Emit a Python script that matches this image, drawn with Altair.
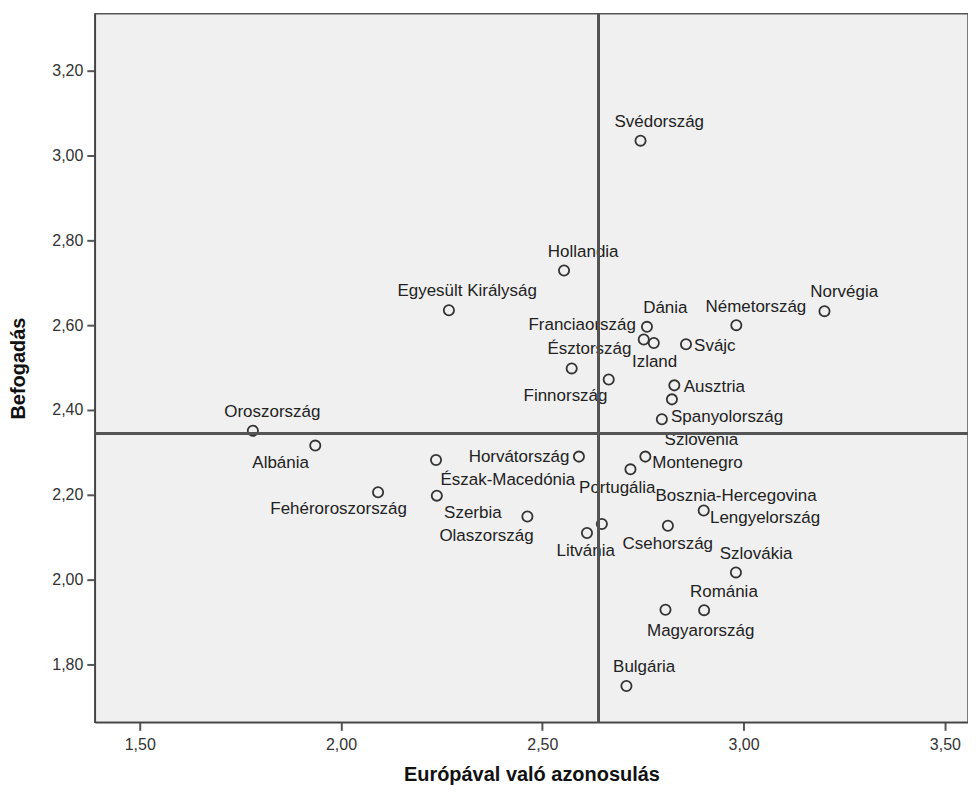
import altair as alt
import pandas as pd

# ---- data ----
countries = [
    "Svédország", "Hollandia", "Egyesült Királyság", "Norvégia", "Németország",
    "Dánia", "Franciaország", "Izland", "Svájc", "Észtország",
    "Finnország", "Ausztria", "Spanyolország", "Szlovénia", "Oroszország",
    "Albánia", "Horvátország", "Montenegro", "Portugália", "Észak-Macedónia",
    "Fehéroroszország", "Szerbia", "Olaszország", "Litvánia", "Bosznia-Hercegovina",
    "Csehország", "Lengyelország", "Szlovákia", "Románia", "Magyarország",
    "Bulgária",
]
identification = [
    2.744, 2.554, 2.268, 3.201, 2.982,
    2.760, 2.752, 2.777, 2.857, 2.573,
    2.665, 2.828, 2.797, 2.822, 1.781,
    1.936, 2.591, 2.756, 2.719, 2.236,
    2.092, 2.238, 2.463, 2.611, 2.648,
    2.812, 2.901, 2.981, 2.902, 2.806,
    2.709,
]
acceptance = [
    3.035, 2.729, 2.635, 2.633, 2.600,
    2.596, 2.566, 2.558, 2.555, 2.498,
    2.472, 2.458, 2.378, 2.425, 2.351,
    2.316, 2.290, 2.290, 2.260, 2.282,
    2.206, 2.198, 2.149, 2.110, 2.131,
    2.127, 2.163, 2.017, 1.928, 1.929,
    1.749,
]
mean_identification = 2.639
mean_acceptance = 2.345
x_ticks = [1.5, 2.0, 2.5, 3.0, 3.5]
y_ticks = [1.8, 2.0, 2.2, 2.4, 2.6, 2.8, 3.0, 3.2]

# ---- layout (label placement, in screen pixels relative to the point) ----
label_offsets_px = {
    "Svédország": (18.8, -18.3), "Hollandia": (19.2, -18.3),
    "Egyesült Királyság": (18.3, -19), "Norvégia": (19.7, -19.3),
    "Németország": (19.6, -17.7), "Dánia": (18.4, -18.4),
    "Franciaország": (-61.7, -15), "Izland": (0.8, 19),
    "Svájc": (28.9, 1.4), "Észtország": (17.8, -19),
    "Finnország": (-43.3, 16.4), "Ausztria": (40.1, 1.4),
    "Spanyolország": (65.4, -2), "Szlovénia": (29.5, 40.7),
    "Oroszország": (19.5, -18.4), "Albánia": (-34.7, 17),
    "Horvátország": (-60, 0), "Montenegro": (52.3, 6),
    "Portugália": (-13.2, 18.4), "Észak-Macedónia": (72, 20),
    "Fehéroroszország": (-39.5, 17), "Szerbia": (36.1, 17.3),
    "Olaszország": (-41, 20), "Litvánia": (-1.3, 18.4),
    "Bosznia-Hercegovina": (134.5, -28.3), "Csehország": (-0.1, 18),
    "Lengyelország": (61.5, 7.3), "Szlovákia": (20.2, -18.7),
    "Románia": (19.8, -18), "Magyarország": (35.3, 21.7),
    "Bulgária": (17.8, -19.4),
}

W, H = 875, 710
X_DOMAIN = [1.3884, 3.5575]
Y_DOMAIN = [1.6635, 3.3341]
x_per_px = (X_DOMAIN[1] - X_DOMAIN[0]) / W
y_per_px = (Y_DOMAIN[1] - Y_DOMAIN[0]) / H

df = pd.DataFrame({"country": countries, "x": identification, "y": acceptance})
df["lx"] = [x + label_offsets_px[c][0] * x_per_px for c, x in zip(countries, identification)]
df["ly"] = [y - label_offsets_px[c][1] * y_per_px for c, y in zip(countries, acceptance)]

FONT = "Liberation Sans"
fmt = "replace(format(datum.value, '.2f'), '.', ',')"

xscale = alt.Scale(domain=X_DOMAIN, nice=False, zero=False)
yscale = alt.Scale(domain=Y_DOMAIN, nice=False, zero=False)

x_axis = alt.Axis(
    values=x_ticks, labelExpr=fmt, title="Európával való azonosulás",
    grid=False, tickSize=8, tickWidth=2, tickColor="#555",
    labelPadding=6, labelFontSize=16, labelFont=FONT, labelColor="#333",
    domainColor="#444", domainWidth=1.5,
    titleFont=FONT, titleFontSize=20, titleFontWeight="bold", titleColor="#111",
    titleBaseline="middle", titleY=52,
)
y_axis = alt.Axis(
    values=y_ticks, labelExpr=fmt, title="Befogadás",
    grid=False, tickSize=8, tickWidth=2, tickColor="#555",
    labelPadding=4, labelFontSize=16, labelFont=FONT, labelColor="#333",
    domainColor="#444", domainWidth=1.5,
    titleFont=FONT, titleFontSize=20, titleFontWeight="bold", titleColor="#111",
    titleBaseline="middle", titleAlign="center", titleX=-76, titleY=H / 2,
)

points = alt.Chart(df).mark_point(
    shape="circle", filled=False, size=105, strokeWidth=1.8, color="#333", opacity=1
).encode(
    x=alt.X("x:Q", scale=xscale, axis=x_axis),
    y=alt.Y("y:Q", scale=yscale, axis=y_axis),
)

labels = alt.Chart(df).mark_text(
    font=FONT, fontSize=17, color="#222", align="center", baseline="middle"
).encode(
    x=alt.X("lx:Q", scale=xscale, axis=x_axis),
    y=alt.Y("ly:Q", scale=yscale, axis=y_axis),
    text="country:N",
)

vline = alt.Chart(df).mark_rule(color="#555", strokeWidth=1.8).encode(
    x=alt.datum(mean_identification, scale=xscale, axis=x_axis)
)
hline = alt.Chart(df).mark_rule(color="#555", strokeWidth=1.8).encode(
    y=alt.datum(mean_acceptance, scale=yscale, axis=y_axis)
)

chart = alt.layer(points, labels, vline, hline).properties(
    width=W, height=H,
    autosize=alt.AutoSizeParams(type="none"),
    padding={"left": 87, "top": 5, "right": 0, "bottom": 68},
    background="white",
).configure_view(fill="#f0f0f0", stroke="#555", strokeWidth=1.5)

chart.save("out.html", embed_options={"renderer": "svg", "actions": False})
